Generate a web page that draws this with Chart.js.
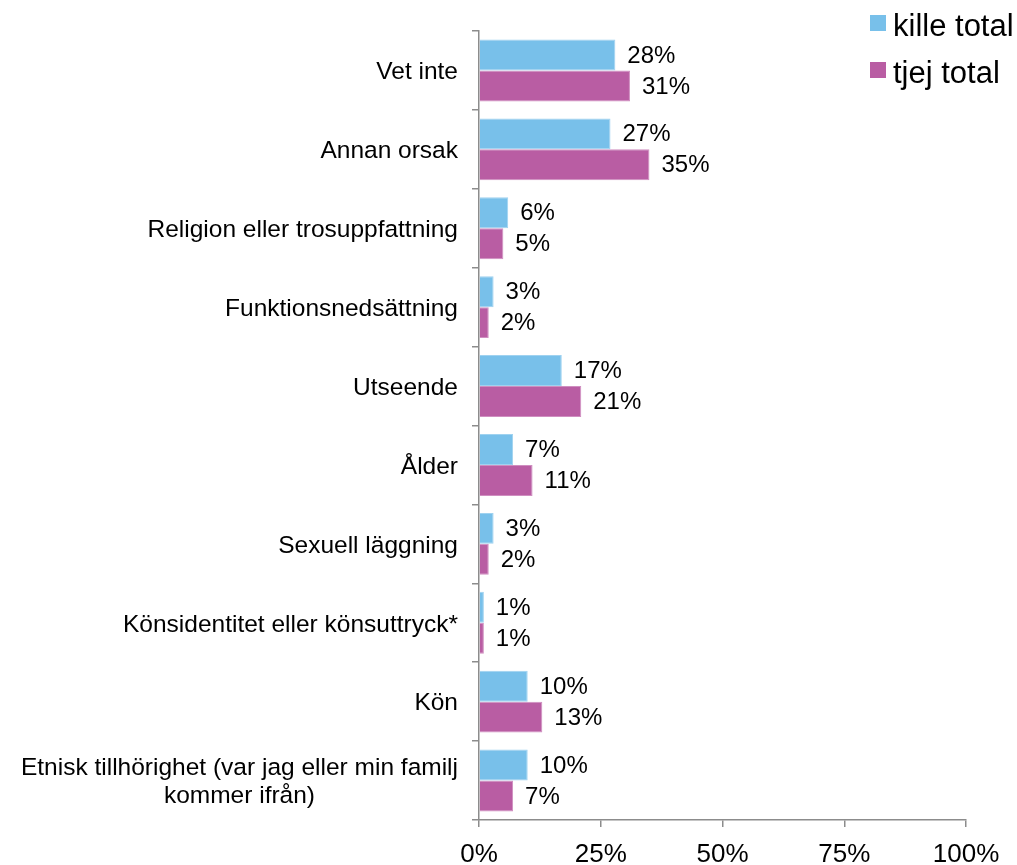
<!DOCTYPE html>
<html>
<head>
<meta charset="utf-8">
<script src="https://cdn.jsdelivr.net/npm/chart.js@4"></script>
<style>
  html, body { margin: 0; padding: 0; background: #fff; }
  canvas { display: block; }
</style>
</head>
<body>
<canvas id="chart" width="1017" height="865"></canvas>
<script>
const categories = [
  "Vet inte",
  "Annan orsak",
  "Religion eller trosuppfattning",
  "Funktionsnedsättning",
  "Utseende",
  "Ålder",
  "Sexuell läggning",
  "Könsidentitet eller könsuttryck*",
  "Kön",
  ["Etnisk tillhörighet (var jag eller min familj", "kommer ifrån)"]
];
const killeTotal = [28, 27, 6, 3, 17, 7, 3, 1, 10, 10];
const tjejTotal = [31, 35, 5, 2, 21, 11, 2, 1, 13, 7];
const xTicks = [0, 25, 50, 75, 100];

const FONT = "'Liberation Sans', Arial, sans-serif";
const AXIS_GREY = "#8c8c8c";

// value labels to the right of each bar
const barLabels = {
  id: "barLabels",
  afterDatasetsDraw(chart) {
    const ctx = chart.ctx;
    ctx.save();
    ctx.font = "24px " + FONT;
    ctx.fillStyle = "#000";
    ctx.textAlign = "left";
    ctx.textBaseline = "middle";
    chart.data.datasets.forEach((ds, i) => {
      chart.getDatasetMeta(i).data.forEach((bar, j) => {
        ctx.fillText(ds.data[j] + "%", bar.x + 12, bar.y + 1);
      });
    });
    ctx.restore();
  }
};

// category names: block right-aligned, lines centred inside the block
const categoryLabels = {
  id: "categoryLabels",
  afterDraw(chart) {
    const ctx = chart.ctx;
    const y = chart.scales.y;
    const lineH = 28;
    ctx.save();
    ctx.font = "24.5px " + FONT;
    ctx.fillStyle = "#000";
    ctx.textBaseline = "middle";
    ctx.textAlign = "center";
    categories.forEach((label, i) => {
      const lines = Array.isArray(label) ? label : [label];
      const w = Math.max(...lines.map(l => ctx.measureText(l).width));
      const cx = y.right - 21 - w / 2;
      const cy = y.getPixelForTick(i) + 2;
      lines.forEach((l, k) => {
        ctx.fillText(l, cx, cy + (k - (lines.length - 1) / 2) * lineH);
      });
    });
    ctx.restore();
  }
};

// legend in the top right corner
const cornerLegend = {
  id: "cornerLegend",
  afterDraw(chart) {
    const ctx = chart.ctx;
    ctx.save();
    ctx.font = "31px " + FONT;
    ctx.textBaseline = "alphabetic";
    ctx.textAlign = "left";
    chart.data.datasets.forEach((ds, i) => {
      const base = 36 + i * 47;
      ctx.fillStyle = ds.backgroundColor;
      ctx.fillRect(870, base - 21, 16, 16);
      ctx.fillStyle = "#000";
      ctx.fillText(ds.label, 893, base);
    });
    ctx.restore();
  }
};

new Chart(document.getElementById("chart").getContext("2d"), {
  type: "bar",
  data: {
    labels: categories,
    datasets: [
      {
        label: "kille total",
        data: killeTotal,
        backgroundColor: "#78c0ea",
        borderColor: "#9fd2f0",
        borderWidth: 1,
        barPercentage: 1,
        categoryPercentage: 0.785
      },
      {
        label: "tjej total",
        data: tjejTotal,
        backgroundColor: "#b95da3",
        borderColor: "#cf8ec0",
        borderWidth: 1,
        barPercentage: 1,
        categoryPercentage: 0.785
      }
    ]
  },
  options: {
    indexAxis: "y",
    responsive: false,
    animation: false,
    layout: { padding: { top: 31, right: 51, left: 0, bottom: 0 } },
    plugins: {
      legend: { display: false },
      tooltip: { enabled: false }
    },
    scales: {
      x: {
        min: 0,
        max: 100,
        afterBuildTicks(scale) {
          scale.ticks = xTicks.map(v => ({ value: v }));
        },
        afterFit(scale) { scale.height = 45; },
        border: { display: true, color: AXIS_GREY, width: 1.5 },
        grid: {
          drawOnChartArea: false,
          drawTicks: true,
          tickLength: 7,
          color: AXIS_GREY,
          lineWidth: 1.5
        },
        ticks: {
          padding: 12,
          color: "#000",
          font: { family: FONT, size: 26 },
          callback: v => v + "%"
        }
      },
      y: {
        afterFit(scale) { scale.width = 479; },
        border: { display: true, color: AXIS_GREY, width: 1.5 },
        grid: {
          offset: true,
          drawOnChartArea: false,
          drawTicks: true,
          tickLength: 7,
          color: AXIS_GREY,
          lineWidth: 1.5
        },
        ticks: { display: false }
      }
    }
  },
  plugins: [barLabels, categoryLabels, cornerLegend]
});
</script>
</body>
</html>
